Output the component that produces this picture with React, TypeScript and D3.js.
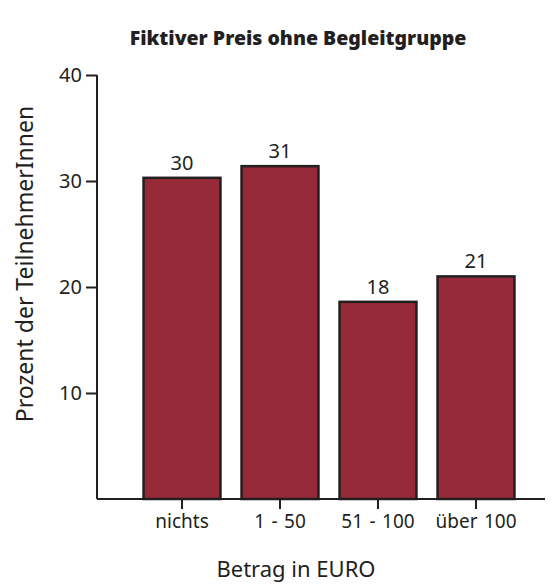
import React, { useEffect, useRef } from 'react';
import * as d3 from 'd3';

const categories = ['nichts', '1 - 50', '51 - 100', 'über 100'];
const values = [30.3, 31.4, 18.6, 21.0];
const valueLabels = ['30', '31', '18', '21'];
const yTicks = [10, 20, 30, 40];

const title = 'Fiktiver Preis ohne Begleitgruppe';
const xTitle = 'Betrag in EURO';
const yTitle = 'Prozent der TeilnehmerInnen';

const width = 558;
const height = 585;
const ink = '#231f20';
const barColour = '#962a38';
const font = '"Noto Sans", "Liberation Sans", sans-serif';

export default function App() {
    const canvas = useRef<SVGSVGElement>(null);

    useEffect(() => {
        const svg = d3.select(canvas.current);
        svg.selectAll('*').remove();

        const x = d3.scaleBand<string>()
            .domain(categories)
            .range([133, 525])
            .paddingInner(0.215)
            .paddingOuter(0.1075);

        const y = d3.scaleLinear()
            .domain([0, 40])
            .range([499, 75]);

        // title
        svg.append('text')
            .attr('x', 298)
            .attr('y', 45)
            .attr('text-anchor', 'middle')
            .attr('font-family', font)
            .attr('font-weight', 900)
            .attr('font-size', 19.5)
            .attr('fill', ink)
            .text(title);

        // bars
        svg.selectAll('.bar')
            .data(values)
            .enter().append('rect')
            .attr('class', 'bar')
            .attr('x', (d: number, i: number) => x(categories[i])!)
            .attr('y', (d: number) => y(d))
            .attr('width', x.bandwidth())
            .attr('height', (d: number) => y(0) - y(d))
            .attr('fill', barColour)
            .attr('stroke', ink)
            .attr('stroke-width', 2.5);

        // value labels
        svg.selectAll('.valueLabel')
            .data(values)
            .enter().append('text')
            .attr('class', 'valueLabel')
            .attr('x', (d: number, i: number) => x(categories[i])! + x.bandwidth() / 2)
            .attr('y', (d: number) => y(d) - 8)
            .attr('text-anchor', 'middle')
            .attr('font-family', font)
            .attr('font-size', 20)
            .attr('fill', ink)
            .text((d: number, i: number) => valueLabels[i]);

        // y axis
        const yAxis = svg.append('g')
            .attr('transform', 'translate(97,0)')
            .call(d3.axisLeft(y).tickValues(yTicks).tickSize(11).tickPadding(4).tickFormat(d3.format('d')));
        yAxis.select('.domain').attr('d', `M0,${y(40)}V${y(0)}`);

        // x axis
        const xAxis = svg.append('g')
            .attr('transform', `translate(0,${y(0)})`)
            .call(d3.axisBottom(x).tickSize(10).tickPadding(6));
        xAxis.select('.domain').attr('d', 'M97,0H545');

        svg.selectAll('.domain, .tick line')
            .attr('stroke', ink)
            .attr('stroke-width', 2);
        yAxis.selectAll('.tick text')
            .attr('font-family', font)
            .attr('font-size', 20)
            .attr('fill', ink);
        xAxis.selectAll('.tick text')
            .attr('font-family', font)
            .attr('font-size', 19)
            .attr('word-spacing', 1.5)
            .attr('fill', ink);

        // axis titles
        svg.append('text')
            .attr('x', 296)
            .attr('y', 577)
            .attr('text-anchor', 'middle')
            .attr('font-family', font)
            .attr('font-size', 22)
            .attr('fill', ink)
            .text(xTitle);

        svg.append('text')
            .attr('transform', 'translate(33,264) rotate(-90)')
            .attr('text-anchor', 'middle')
            .attr('font-family', font)
            .attr('font-size', 23)
            .attr('fill', ink)
            .text(yTitle);
    }, []);

    return (
        <svg
            ref={canvas}
            width={width}
            height={height}
            style={{ position: 'absolute', left: 0, top: 0, background: '#fff' }}
        />
    );
}
